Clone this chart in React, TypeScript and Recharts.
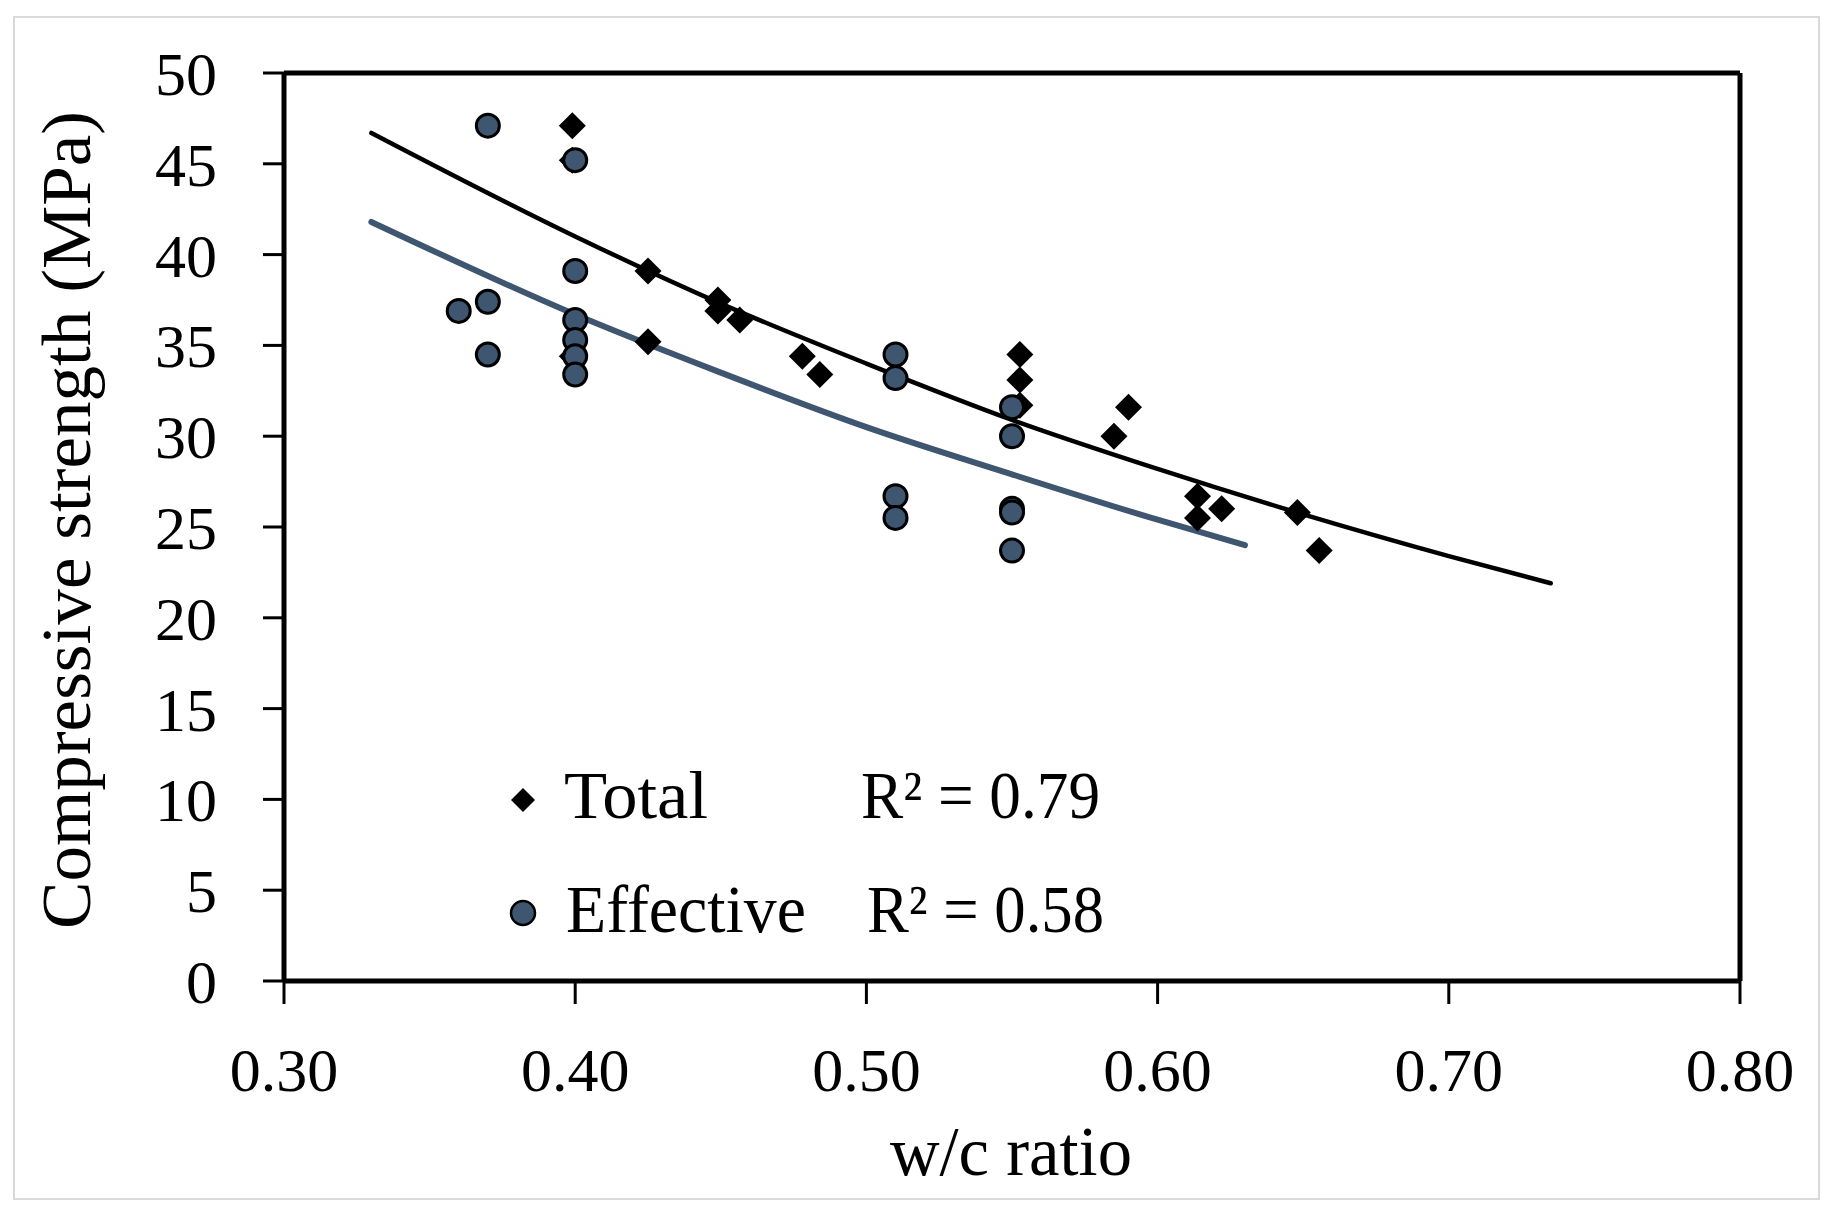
import {
  ComposedChart, Scatter, Line, XAxis, YAxis, ReferenceLine, Legend,
} from "recharts";

// measured points (w/c ratio, MPa)
const totalX = [0.399, 0.399, 0.399, 0.425, 0.425, 0.449, 0.449, 0.4565, 0.478, 0.484,
  0.5527, 0.5527, 0.5527, 0.585, 0.59, 0.6137, 0.6137, 0.622, 0.648, 0.6555];
const totalY = [47.1, 45.2, 34.4, 39.1, 35.2, 37.5, 36.9, 36.4, 34.4, 33.4,
  34.5, 33.1, 31.7, 30.0, 31.6, 26.7, 25.5, 26.0, 25.8, 23.7];

const effX = [0.36, 0.37, 0.37, 0.37, 0.4, 0.4, 0.4, 0.4, 0.4, 0.4,
  0.51, 0.51, 0.51, 0.51, 0.55, 0.55, 0.55, 0.55, 0.55];
const effY = [36.9, 47.1, 37.4, 34.5, 45.2, 39.1, 36.4, 35.3, 34.4, 33.4,
  34.5, 33.2, 26.7, 25.5, 31.6, 30.0, 26.0, 25.8, 23.7];

// trend lines
const totalFitX = [0.33, 0.4, 0.45, 0.5, 0.55, 0.6, 0.65, 0.7, 0.735];
const totalFitY = [46.7, 41.0, 37.3, 34.0, 30.9, 28.2, 25.7, 23.4, 21.9];
const effFitX = [0.33, 0.4, 0.45, 0.5, 0.55, 0.6, 0.63];
const effFitY = [41.8, 36.7, 33.5, 30.5, 27.9, 25.4, 24.0];

const xTicks = [0.3, 0.4, 0.5, 0.6, 0.7, 0.8];
const yTicks = [0, 5, 10, 15, 20, 25, 30, 35, 40, 45, 50];

const zip = (xs: number[], ys: number[]) => xs.map((x, i) => ({ x, y: ys[i] }));
const totalData = zip(totalX, totalY);
const effData = zip(effX, effY);
const totalFit = zip(totalFitX, totalFitY);
const effFit = zip(effFitX, effFitY);

const FONT = "'Liberation Serif', 'Times New Roman', serif";
const SLATE = "#3f5670";

const Diamond = (props: any) => {
  const { cx, cy } = props;
  const r = 13.5;
  return <polygon points={`${cx},${cy - r} ${cx + r},${cy} ${cx},${cy + r} ${cx - r},${cy}`} fill="#000" />;
};

const Dot = (props: any) => {
  const { cx, cy } = props;
  return <circle cx={cx} cy={cy} r={11.5} fill={SLATE} stroke="#000" strokeWidth={3} />;
};

const YTitle = (props: any) => {
  const vb = props.viewBox;
  const cy = vb.y + vb.height / 2 - 7;
  return (
    <text x={90} y={cy} transform={`rotate(-90, 90, ${cy})`} textAnchor="middle"
      fontFamily={FONT} fontSize={70} fill="#000" textLength={818} lengthAdjust="spacingAndGlyphs">
      Compressive strength (MPa)
    </text>
  );
};

const XTitle = (props: any) => {
  const vb = props.viewBox;
  const cx = vb.x + vb.width / 2 - 1;
  return (
    <text x={cx} y={1175} textAnchor="middle" fontFamily={FONT} fontSize={70} fill="#000"
      textLength={242} lengthAdjust="spacingAndGlyphs">
      w/c ratio
    </text>
  );
};

const LegendBox = () => (
  <div style={{ position: "relative", width: 0, height: 0 }}>
    <svg width={1} height={1} style={{ position: "absolute", left: 0, top: 0, overflow: "visible" }}>
      <polygon points="523,788 535,800 523,812 511,800" fill="#000" />
      <circle cx={523} cy={913} r={12} fill={SLATE} stroke="#000" strokeWidth={2.5} />
      <g fontFamily={FONT} fontSize={68} fill="#000">
        <text x={564} y={818} textLength={144} lengthAdjust="spacingAndGlyphs">Total</text>
        <text x={861} y={818} textLength={239} lengthAdjust="spacingAndGlyphs">R² = 0.79</text>
        <text x={566} y={932} textLength={240} lengthAdjust="spacingAndGlyphs">Effective</text>
        <text x={867} y={932} textLength={237} lengthAdjust="spacingAndGlyphs">R² = 0.58</text>
      </g>
    </svg>
  </div>
);

export default function App() {
  return (
    <div style={{ position: "absolute", left: 0, top: 0, width: 1833, height: 1217, background: "#fff" }}>
      <div style={{ position: "absolute", left: 13, top: 16, width: 1803, height: 1180, border: "2px solid #d9d9d9" }} />
      <ComposedChart width={1833} height={1217} margin={{ top: 73, right: 93, bottom: 0, left: 0 }}>
        <XAxis
          type="number" dataKey="x" domain={[0.3, 0.8]} ticks={xTicks} allowDataOverflow
          tickFormatter={(v: number) => v.toFixed(2)}
          height={236} tickSize={23} tickMargin={43}
          axisLine={{ stroke: "#000", strokeWidth: 5 }}
          tickLine={{ stroke: "#000", strokeWidth: 3 }}
          tick={{ fill: "#000", fontSize: 62, fontFamily: FONT }}
          label={<XTitle />}
        />
        <YAxis
          type="number" dataKey="y" domain={[0, 50]} ticks={yTicks} allowDataOverflow
          width={284} tickSize={21} tickMargin={46}
          axisLine={{ stroke: "#000", strokeWidth: 5 }}
          tickLine={{ stroke: "#000", strokeWidth: 3 }}
          tick={{ fill: "#000", fontSize: 62, fontFamily: FONT }}
          label={<YTitle />}
        />
        <ReferenceLine y={50} stroke="#000" strokeWidth={5} />
        <ReferenceLine x={0.8} stroke="#000" strokeWidth={5} />
        <Scatter name="Total" data={totalData} dataKey="y" shape={Diamond} isAnimationActive={false} />
        <Scatter name="Effective" data={effData} dataKey="y" shape={Dot} isAnimationActive={false} />
        <Line data={totalFit} dataKey="y" type="monotone" stroke="#000" strokeWidth={4.5}
          strokeLinecap="round" dot={false} activeDot={false} isAnimationActive={false} legendType="none" />
        <Line data={effFit} dataKey="y" type="monotone" stroke={SLATE} strokeWidth={6}
          strokeLinecap="round" dot={false} activeDot={false} isAnimationActive={false} legendType="none" />
        <Legend content={<LegendBox />} wrapperStyle={{ left: 0, top: 0, width: 0, height: 0 }} />
      </ComposedChart>
    </div>
  );
}
